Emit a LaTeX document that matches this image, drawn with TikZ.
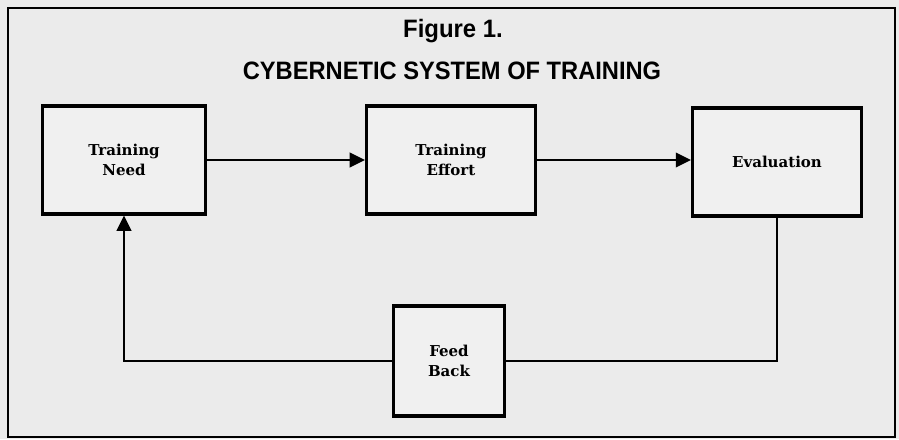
\documentclass[tikz,border=0pt]{standalone}
\usepackage{fontspec}
\newfontfamily\headfont{Liberation Sans}
\newfontfamily\slabfont{DejaVu Serif}
\usetikzlibrary{arrows.meta}
\tikzset{
    block/.style={draw, line width=2.6pt, fill=black!6, minimum height=3.24cm, align=center,
        font=\slabfont\bfseries\fontsize{12.8}{17}\selectfont},
    heading/.style={font=\headfont\bfseries\fontsize{21.5}{24}\selectfont},
    flow/.style={line width=1.5pt},
    flowarrow/.style={-{Triangle[length=13pt,width=12.5pt]}}
}
\begin{document}
\begin{tikzpicture}[x=0.03cm, y=-0.03cm]
    \fill[black!8] (0,0) rectangle (899,439);
    \useasboundingbox (0,0) rectangle (899,439);
    \draw[line width=2.4pt] (8,8) rectangle (895,437);
    \node[heading] (fig) at (453,31) {\scalebox{0.95}[1]{Figure 1.}};
    \node[heading] (title) at (452,71) {\scalebox{0.94}[1]{CYBERNETIC SYSTEM OF TRAINING}};
    \node[block, minimum width=4.89cm] (need) at (124,160) {Training\\Need};
    \node[block, minimum width=5.07cm] (effort) at (451,160) {Training\\Effort};
    \node[block, minimum width=5.07cm] (eval) at (777,162) {Evaluation};
    \node[block, minimum width=3.33cm, minimum height=3.3cm] (feed) at (449,361) {Feed\\Back};
    \draw[flow, flowarrow] (need) -- (effort);
    \draw[flow, flowarrow] (effort.east) -- (effort.east -| eval.west);
    \draw[flow] (eval.south) |- (feed.east);
    \draw[flow, flowarrow] (feed.west) -| (need.south);
\end{tikzpicture}
\end{document}
